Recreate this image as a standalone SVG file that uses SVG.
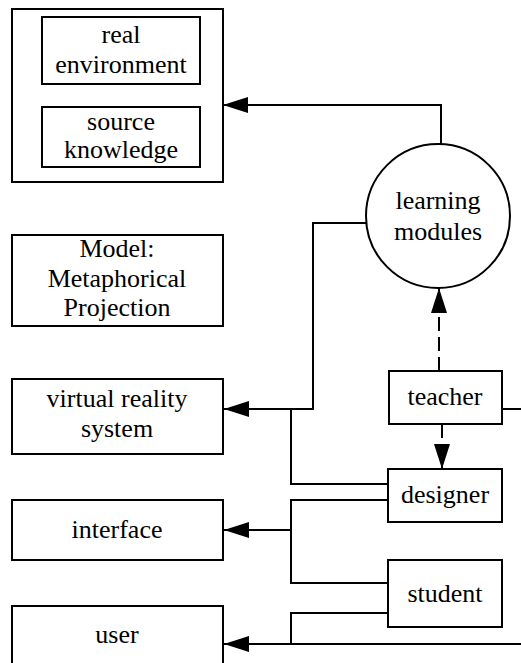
<svg xmlns="http://www.w3.org/2000/svg" width="521" height="663" viewBox="0 0 521 663">
  <style>
    .box { fill: #fff; stroke: #000; stroke-width: 2; }
    .lbl { font-size: 26px; fill: #000; text-anchor: middle; }
    .wire { fill: none; stroke: #000; stroke-width: 2; }
    .dash { stroke-dasharray: 14 6; }
  </style>
  <defs>
    <marker id="arrow" markerUnits="userSpaceOnUse" viewBox="0 0 25 16" refX="25" refY="8" markerWidth="25" markerHeight="16" orient="auto">
      <path d="M0,0 L25,8 L0,16 Z" fill="#000"/>
    </marker>
  </defs>
  <rect width="521" height="663" fill="#fff"/>

  <g id="connectors">
    <path class="wire" d="M441,144 V105 H223" marker-end="url(#arrow)"/>
    <path class="wire" d="M366,223 H313 V409 H224" marker-end="url(#arrow)"/>
    <path class="wire" d="M388,484 H291 V409"/>
    <path class="wire" d="M388,500 H291 V583 H388"/>
    <path class="wire" d="M291,530 H224" marker-end="url(#arrow)"/>
    <path class="wire" d="M388,613 H291 V644"/>
    <path class="wire" d="M521,644 H224" marker-end="url(#arrow)"/>
    <path class="wire" d="M502,409 H521"/>
    <path class="wire dash" d="M439,371 V288" marker-end="url(#arrow)"/>
    <path class="wire dash" d="M442,424 V469" marker-end="url(#arrow)"/>
  </g>

  <g font-family="Liberation Serif, DejaVu Serif, Times New Roman, serif">
    <g id="source-domain">
      <rect class="box" x="12" y="9" width="211" height="173"/>
      <g id="real-environment">
        <rect class="box" x="42" y="17" width="158" height="67"/>
        <text class="lbl" x="121" y="43">real</text>
        <text class="lbl" x="121" y="73">environment</text>
      </g>
      <g id="source-knowledge">
        <rect class="box" x="42" y="107" width="158" height="60"/>
        <text class="lbl" x="121" y="130">source</text>
        <text class="lbl" x="121" y="158">knowledge</text>
      </g>
    </g>

    <g id="model">
      <rect class="box" x="12" y="235" width="211" height="91"/>
      <text class="lbl" x="117" y="257">Model:</text>
      <text class="lbl" x="117" y="287">Metaphorical</text>
      <text class="lbl" x="117" y="316">Projection</text>
    </g>

    <g id="vr-system">
      <rect class="box" x="12" y="379" width="211" height="75"/>
      <text class="lbl" x="117" y="407">virtual reality</text>
      <text class="lbl" x="117" y="437">system</text>
    </g>

    <g id="interface">
      <rect class="box" x="12" y="500" width="211" height="60"/>
      <text class="lbl" x="117" y="538">interface</text>
    </g>

    <g id="user">
      <rect class="box" x="12" y="606" width="211" height="70"/>
      <text class="lbl" x="117" y="643">user</text>
    </g>

    <g id="learning-modules">
      <circle class="box" cx="438" cy="216" r="72"/>
      <text class="lbl" x="438" y="209">learning</text>
      <text class="lbl" x="438" y="240">modules</text>
    </g>

    <g id="teacher">
      <rect class="box" x="389" y="371" width="113" height="53"/>
      <text class="lbl" x="445" y="405">teacher</text>
    </g>

    <g id="designer">
      <rect class="box" x="388" y="469" width="114" height="53"/>
      <text class="lbl" x="445" y="503">designer</text>
    </g>

    <g id="student">
      <rect class="box" x="388" y="560" width="114" height="67"/>
      <text class="lbl" x="445" y="602">student</text>
    </g>
  </g>
</svg>
